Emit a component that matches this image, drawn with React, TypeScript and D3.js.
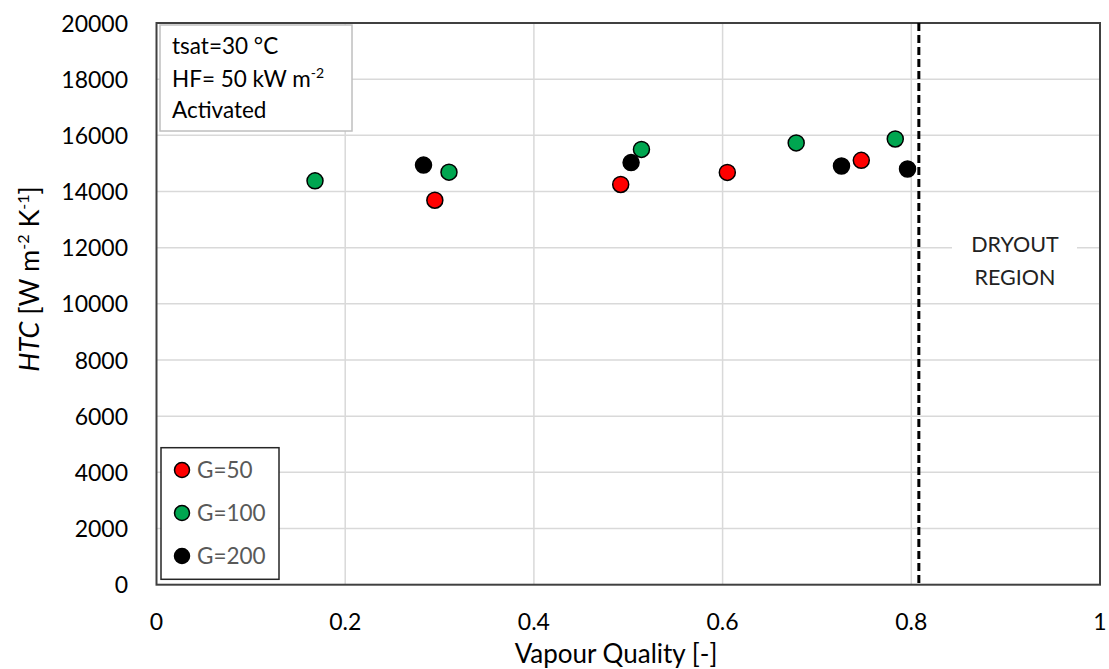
import * as d3 from 'd3';
import React, { useEffect, useRef } from 'react';

// data
const g50X = [0.295, 0.492, 0.605, 0.747];
const g50Y = [13690, 14250, 14680, 15110];
const g100X = [0.168, 0.310, 0.514, 0.678, 0.783];
const g100Y = [14380, 14690, 15500, 15730, 15870];
const g200X = [0.283, 0.503, 0.726, 0.796];
const g200Y = [14940, 15030, 14910, 14800];
const seriesNames = ['G=50', 'G=100', 'G=200'];
const seriesColors = ['#ff0000', '#00a650', '#000000'];
const xTicks = [0, 0.2, 0.4, 0.6, 0.8, 1];
const yTicks = [0, 2000, 4000, 6000, 8000, 10000, 12000, 14000, 16000, 18000, 20000];
const dryoutX = 0.808;

const FONT = 'Lato, "Open Sans", sans-serif';

const App = () => {
    const ref = useRef<SVGSVGElement>(null);
    const W = 1109, H = 669;
    const margin = { top: 23, right: 8, bottom: 84, left: 156.5 };

    useEffect(() => {
        const svg = d3.select(ref.current);
        svg.selectAll('*').remove();

        const x = d3.scaleLinear().domain([0, 1]).range([margin.left, 1100]);
        const y = d3.scaleLinear().domain([0, 20000]).range([584.7, margin.top]);

        // grid
        svg.append('g').selectAll('line.gx')
            .data(xTicks.slice(1, -1)).enter().append('line')
            .attr('x1', d => x(d)).attr('x2', d => x(d))
            .attr('y1', y(0)).attr('y2', y(20000))
            .attr('stroke', '#d9d9d9').attr('stroke-width', 1.5);
        svg.append('g').selectAll('line.gy')
            .data(yTicks.slice(1, -1)).enter().append('line')
            .attr('x1', x(0)).attr('x2', x(1))
            .attr('y1', d => y(d)).attr('y2', d => y(d))
            .attr('stroke', '#d9d9d9').attr('stroke-width', 1.5);

        // plot border
        svg.append('rect')
            .attr('x', x(0)).attr('y', y(20000))
            .attr('width', x(1) - x(0)).attr('height', y(0) - y(20000))
            .attr('fill', 'none').attr('stroke', '#404040').attr('stroke-width', 2);

        // tick labels
        svg.append('g').selectAll('text')
            .data(yTicks).enter().append('text')
            .attr('x', 128).attr('y', d => y(d) + 8.5)
            .attr('text-anchor', 'end')
            .style('font-family', FONT).style('font-size', '23px').attr('fill', '#000')
            .text(d => d);
        svg.append('g').selectAll('text')
            .data(xTicks).enter().append('text')
            .attr('x', d => x(d)).attr('y', 630)
            .attr('text-anchor', 'middle')
            .style('font-family', FONT).style('font-size', '23px').attr('fill', '#000')
            .text(d => d);

        // axis titles
        svg.append('text')
            .attr('x', 616).attr('y', 663)
            .attr('text-anchor', 'middle')
            .style('font-family', FONT).style('font-size', '26px')
            .text('Vapour Quality [-]');
        const yt = svg.append('text')
            .attr('transform', 'translate(39,279) rotate(-90)')
            .attr('text-anchor', 'middle')
            .style('font-family', FONT).style('font-size', '27px');
        yt.append('tspan').style('font-style', 'italic').text('HTC');
        yt.append('tspan').text(' [W m');
        yt.append('tspan').attr('dy', -10).style('font-size', '16px').text('-2');
        yt.append('tspan').attr('dy', 10).text(' K');
        yt.append('tspan').attr('dy', -10).style('font-size', '16px').text('-1');
        yt.append('tspan').attr('dy', 10).text(']');

        // dryout line + label
        svg.append('line')
            .attr('x1', x(dryoutX)).attr('x2', x(dryoutX))
            .attr('y1', y(20000)).attr('y2', y(0))
            .attr('stroke', '#000').attr('stroke-width', 3)
            .attr('stroke-dasharray', '8,4');
        svg.append('rect')
            .attr('x', 952).attr('y', 228).attr('width', 125).attr('height', 66)
            .attr('fill', '#fff');
        svg.append('text')
            .attr('x', 1015).attr('y', 252).attr('text-anchor', 'middle')
            .style('font-family', FONT).style('font-size', '21.5px').attr('fill', '#222')
            .text('DRYOUT');
        svg.append('text')
            .attr('x', 1015).attr('y', 285).attr('text-anchor', 'middle')
            .style('font-family', FONT).style('font-size', '21.5px').attr('fill', '#222')
            .text('REGION');

        // points
        const series = [
            { xs: g50X, ys: g50Y },
            { xs: g100X, ys: g100Y },
            { xs: g200X, ys: g200Y },
        ];
        series.forEach((s, i) => {
            svg.append('g').selectAll('circle')
                .data(s.xs).enter().append('circle')
                .attr('cx', d => x(d))
                .attr('cy', (d, j) => y(s.ys[j]))
                .attr('r', 8)
                .attr('fill', seriesColors[i])
                .attr('stroke', '#000').attr('stroke-width', 1.5);
        });

        // info box
        svg.append('rect')
            .attr('x', 160).attr('y', 25).attr('width', 192).attr('height', 106)
            .attr('fill', '#fff').attr('stroke', '#bfbfbf').attr('stroke-width', 1.5);
        const info = svg.append('g')
            .style('font-family', FONT).style('font-size', '22.5px').attr('fill', '#000');
        info.append('text').attr('x', 172).attr('y', 54).text('tsat=30 °C');
        const hf = info.append('text').attr('x', 172).attr('y', 87);
        hf.append('tspan').text('HF= 50 kW m');
        hf.append('tspan').attr('dy', -9).style('font-size', '14px').text('-2');
        info.append('text').attr('x', 172).attr('y', 118).text('Activated');

        // legend
        svg.append('rect')
            .attr('x', 161).attr('y', 447.7).attr('width', 118).attr('height', 131.6)
            .attr('fill', '#fff').attr('stroke', '#262626').attr('stroke-width', 1.5);
        const lg = svg.append('g').selectAll('g')
            .data(seriesNames).enter().append('g')
            .attr('transform', (d, i) => 'translate(182,' + (470 + i * 43) + ')');
        lg.append('circle').attr('r', 7.5)
            .attr('fill', (d, i) => seriesColors[i])
            .attr('stroke', '#000').attr('stroke-width', 1.5);
        lg.append('text').attr('x', 15).attr('y', 8)
            .style('font-family', FONT).style('font-size', '22.5px').attr('fill', '#595959')
            .text(d => d);
    }, []);

    return (
        <svg ref={ref} width={W} height={H} style={{ position: 'absolute', left: 0, top: 0, background: '#fff' }}>
        </svg>
    );
};

export default App;
